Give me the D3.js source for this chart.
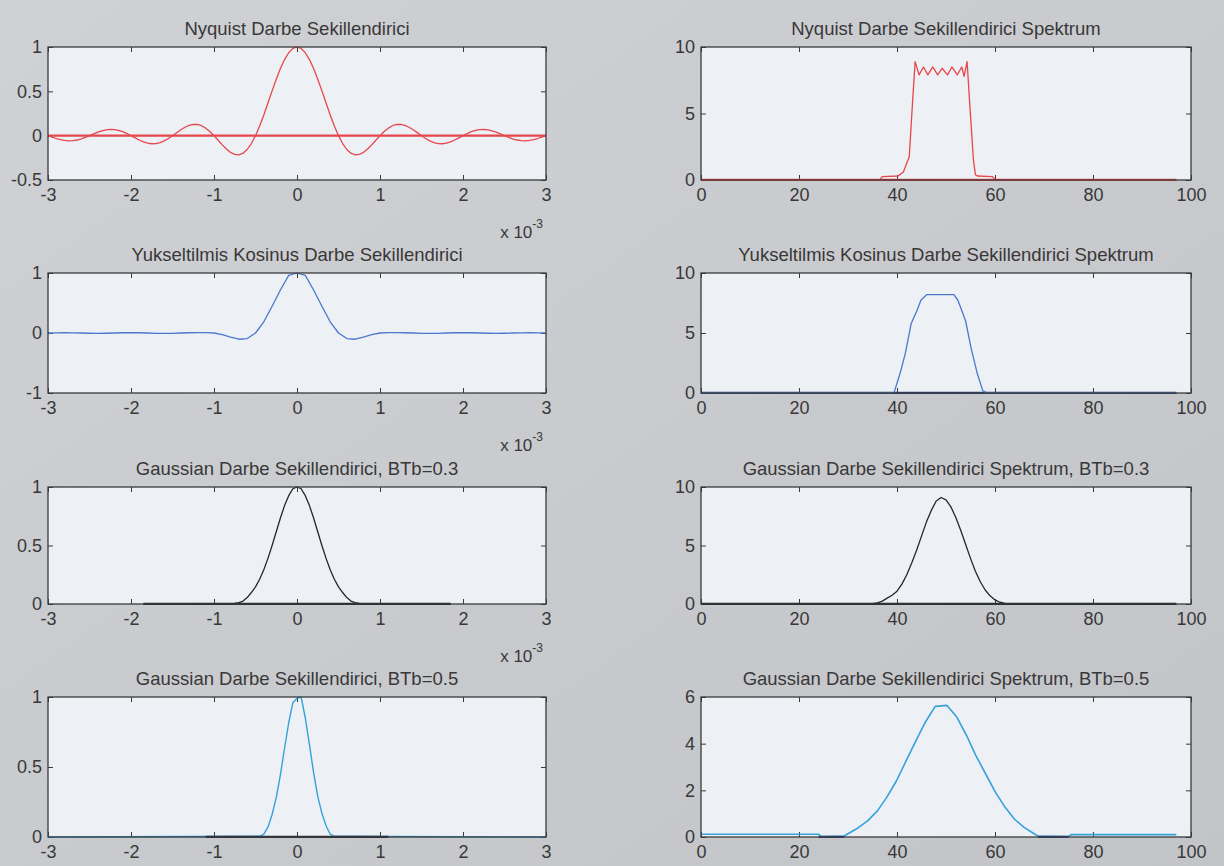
<!DOCTYPE html>
<html><head><meta charset="utf-8">
<script src="https://cdn.jsdelivr.net/npm/d3@7/dist/d3.min.js"></script>
<style>
body{margin:0;background:#c9cace;}
svg{display:block}
text{font-family:"Liberation Sans",Arial,Helvetica,sans-serif;fill:#383838;}
</style>
</head><body><svg id="c" width="1224" height="866"></svg>
<script>
// ---------------- DATA ----------------
const titles = [
  "Nyquist Darbe Sekillendirici",
  "Nyquist Darbe Sekillendirici Spektrum",
  "Yukseltilmis Kosinus Darbe Sekillendirici",
  "Yukseltilmis Kosinus Darbe Sekillendirici Spektrum",
  "Gaussian Darbe Sekillendirici, BTb=0.3",
  "Gaussian Darbe Sekillendirici Spektrum, BTb=0.3",
  "Gaussian Darbe Sekillendirici, BTb=0.5",
  "Gaussian Darbe Sekillendirici Spektrum, BTb=0.5"
];
const pulseTicksX = [-3,-2,-1,0,1,2,3];
const specTicksX = [0,20,40,60,80,100];
const yTicksList = [[-0.5,0,0.5,1],[0,5,10],[-1,0,1],[0,5,10],[0,0.5,1],[0,5,10],[0,0.5,1],[0,2,4,6]];
const yDomains = [[-0.5,1],[0,10],[-1,1],[0,10],[0,1],[0,10],[0,1],[0,6]];

// time grids (ms)
const tFine = d3.range(-60,61).map(k=>k*0.05);
const tCoarse = d3.range(-30,31).map(k=>k*0.1);

// Nyquist pulse (-3..3 ms every 0.05 ms)
const nyqPulse = [
 0,-0.017,-0.032,-0.045,-0.054,-0.058,-0.056,-0.049,-0.036,-0.019,
 0,0.020,0.039,0.055,0.066,0.071,0.069,0.060,0.045,0.024,
 0,-0.025,-0.049,-0.070,-0.084,-0.091,-0.089,-0.078,-0.058,-0.032,
 0,0.034,0.067,0.095,0.116,0.127,0.126,0.112,0.085,0.047,
 0,-0.052,-0.104,-0.151,-0.189,-0.212,-0.216,-0.198,-0.156,-0.089,
 0,0.109,0.234,0.368,0.505,0.637,0.757,0.858,0.935,0.984,
 1,
 0.984,0.935,0.858,0.757,0.637,0.505,0.368,0.234,0.109,0,
 -0.089,-0.156,-0.198,-0.216,-0.212,-0.189,-0.151,-0.104,-0.052,0,
 0.047,0.085,0.112,0.126,0.127,0.116,0.095,0.067,0.034,0,
 -0.032,-0.058,-0.078,-0.089,-0.091,-0.084,-0.070,-0.049,-0.025,0,
 0.024,0.045,0.060,0.069,0.071,0.066,0.055,0.039,0.020,0,
 -0.019,-0.036,-0.049,-0.056,-0.058,-0.054,-0.045,-0.032,-0.017,0
];
// Nyquist spectrum
const nyqSpecX = [0,36.5,37,40.2,41.3,42.5,43.2,43.7,44.5,45.4,46.3,47.3,48.3,49.2,50.3,51.2,52.3,53.2,53.7,54.3,54.8,55.6,56.0,56.4,59.5,60,97];
const nyqSpecY = [0.03,0.03,0.25,0.3,0.6,1.75,6.0,8.9,7.9,8.5,7.9,8.5,7.9,8.4,7.9,8.5,7.9,8.5,7.8,8.9,6.0,1.5,0.4,0.3,0.25,0.03,0.03];

// Raised cosine pulse (-3..3 ms every 0.1 ms)
const rcPulse = [
 0,0.003,0.005,0.003,0,-0.004,-0.006,-0.004,0,0.004,
 0.006,0.004,0,-0.005,-0.007,-0.005,0,0.004,0.007,0.006,
 0,-0.028,-0.070,-0.104,-0.093,0,0.187,0.446,0.717,0.96,
 1,
 0.96,0.717,0.446,0.187,0,-0.093,-0.104,-0.070,-0.028,0,
 0.006,0.007,0.004,0,-0.005,-0.007,-0.005,0,0.004,0.006,
 0.004,0,-0.004,-0.006,-0.004,0,0.003,0.005,0.003,0
];
// Raised cosine spectrum
const rcSpecX = [0,39.4,40.6,41.7,42.9,44.1,44.9,46.1,51.6,52.4,53.2,54.0,55.2,56.4,57.5,58.2,97];
const rcSpecY = [0.03,0.03,1.6,3.3,5.8,6.9,7.75,8.2,8.2,7.75,6.9,6.0,3.6,1.6,0.2,0.03,0.03];

// Gaussian BTb=0.3 pulse
const g3T = [-1.85,-0.75,-0.70,-0.65,-0.60,-0.55,-0.50,-0.45,-0.40,-0.35,-0.30,-0.25,-0.20,-0.15,-0.10,-0.05,0,0.05,0.10,0.15,0.20,0.25,0.30,0.35,0.40,0.45,0.50,0.55,0.60,0.65,0.70,0.75,1.85];
const g3V = [0,0.005,0.012,0.025,0.055,0.098,0.146,0.211,0.292,0.390,0.500,0.618,0.735,0.841,0.926,0.985,1,0.985,0.926,0.841,0.735,0.618,0.500,0.390,0.292,0.211,0.146,0.098,0.055,0.025,0.012,0.005,0];
const g3Base = [-1.85,1.85];
// Gaussian BTb=0.3 spectrum
const g3SpecX = [0,35,36,37,38,39,40,41,42,43,44,45,46,47,48,49,50,51,52,53,54,55,56,57,58,59,60,61,62,63,97];
const g3SpecY = [0.03,0.03,0.1,0.25,0.5,0.75,1.1,1.7,2.5,3.5,4.6,5.8,7.0,8.0,8.8,9.1,8.9,8.3,7.4,6.3,5.1,3.9,2.8,1.9,1.2,0.7,0.35,0.15,0.05,0.03,0.03];

// Gaussian BTb=0.5 pulse
const g5T = [-3,-0.45,-0.40,-0.35,-0.30,-0.25,-0.20,-0.15,-0.10,-0.05,0,0.05,0.10,0.15,0.20,0.25,0.30,0.35,0.40,0.45,3];
const g5V = [0,0.005,0.02,0.07,0.161,0.281,0.444,0.634,0.816,0.96,0.99,1,0.85,0.66,0.46,0.29,0.17,0.08,0.02,0.005,0];
const g5Base = [-1.1,1.1];
// Gaussian BTb=0.5 spectrum
const g5SpecX = [0,24,24.5,29.2,31.6,34.0,36.0,37.9,39.9,41.9,43.9,45.8,47.8,50.2,52.2,54.2,56.1,58.1,60.1,62.1,64.0,66.0,68.0,68.8,75,75.5,97];
const g5SpecY = [0.12,0.12,0.02,0.04,0.33,0.69,1.12,1.70,2.41,3.28,4.14,4.93,5.60,5.64,5.14,4.35,3.49,2.70,1.91,1.26,0.76,0.40,0.14,0.04,0.02,0.1,0.1];
const g5SpecBase = [[24,29.2],[68.8,75]];

// ---------------- LAYOUT / STYLE ----------------
const cols = [[48,546],[701,1191]];
const rows = [[47,180],[273,393],[487,604],[697,837]];
const RED = "#e6474c", BLUE = "#4a79cc", NAVY = "#2b467f", BLACK = "#262626", CYAN = "#35a2dc", DARK = "#2a2f3a";

const zip = (xs, ys) => xs.map((x,i)=>[x,ys[i]]);

const panels = [
  {lines:[{pts:[[-3,0],[3,0]],c:RED,w:2.2},{pts:zip(tFine,nyqPulse),c:RED,w:1.3}], sci:true},
  {lines:[{pts:[[0,0],[97,0]],c:RED,w:2.6},{pts:zip(nyqSpecX,nyqSpecY),c:RED,w:1.3}]},
  {lines:[{pts:zip(tCoarse,rcPulse),c:BLUE,w:1.3}], sci:true},
  {lines:[{pts:[[0,0],[97,0]],c:NAVY,w:2.6},{pts:zip(rcSpecX,rcSpecY),c:BLUE,w:1.3}]},
  {lines:[{pts:[[g3Base[0],0],[g3Base[1],0]],c:BLACK,w:2.6},{pts:zip(g3T,g3V),c:BLACK,w:1.3}], sci:true},
  {lines:[{pts:[[0,0],[97,0]],c:BLACK,w:2.6},{pts:zip(g3SpecX,g3SpecY),c:BLACK,w:1.3}]},
  {lines:[{pts:zip(g5T,g5V),c:CYAN,w:1.4},{pts:[[g5Base[0],0],[g5Base[1],0]],c:DARK,w:2.4}]},
  {lines:[{pts:zip(g5SpecX,g5SpecY),c:CYAN,w:1.6},{pts:[[g5SpecBase[0][0],0],[g5SpecBase[0][1],0]],c:NAVY,w:2.4},{pts:[[g5SpecBase[1][0],0],[g5SpecBase[1][1],0]],c:NAVY,w:2.4}]}
];

const svg = d3.select("#c");
const defs = svg.append("defs");
const grad = defs.append("linearGradient").attr("id","bg").attr("x1",0).attr("y1",0).attr("x2",1).attr("y2",1);
grad.append("stop").attr("offset","0%").attr("stop-color","#d0d1d4");
grad.append("stop").attr("offset","100%").attr("stop-color","#c3c4c8");
svg.append("rect").attr("width",1224).attr("height",866).attr("fill","url(#bg)");

panels.forEach((p,i)=>{
  const col = cols[i%2], row = rows[Math.floor(i/2)];
  const isPulse = i%2===0;
  const x = d3.scaleLinear().domain(isPulse?[-3,3]:[0,100]).range(col);
  const y = d3.scaleLinear().domain(yDomains[i]).range([row[1],row[0]]);
  const g = svg.append("g");
  const cid = "clip"+i;
  defs.append("clipPath").attr("id",cid).append("rect")
    .attr("x",col[0]).attr("y",row[0]-1).attr("width",col[1]-col[0]).attr("height",row[1]-row[0]+2);
  g.append("rect").attr("x",col[0]).attr("y",row[0]).attr("width",col[1]-col[0]).attr("height",row[1]-row[0])
    .attr("fill","#edf0f4");
  const xt = isPulse?pulseTicksX:specTicksX;
  const yt = yTicksList[i];
  const fmt = d => String(d);
  const ax = (gen, tr) => {
    const a = g.append("g").attr("transform",tr).call(gen);
    a.select(".domain").remove();
    a.selectAll("line").attr("stroke","#3a3a3a").attr("stroke-width",1);
    a.selectAll("text").attr("font-size","18px").attr("fill","#383838")
      .style("font-family",'"Liberation Sans",Arial,sans-serif');
    return a;
  };
  ax(d3.axisBottom(x).tickValues(xt).tickSizeInner(-5).tickSizeOuter(0).tickPadding(8).tickFormat(fmt), `translate(0,${row[1]})`);
  ax(d3.axisTop(x).tickValues(xt).tickSizeInner(-5).tickSizeOuter(0).tickFormat(""), `translate(0,${row[0]})`);
  ax(d3.axisLeft(y).tickValues(yt).tickSizeInner(-5).tickSizeOuter(0).tickPadding(6).tickFormat(fmt), `translate(${col[0]},0)`);
  ax(d3.axisRight(y).tickValues(yt).tickSizeInner(-5).tickSizeOuter(0).tickFormat(""), `translate(${col[1]},0)`);

  const lg = g.append("g").attr("clip-path",`url(#${cid})`);
  const line = d3.line().x(d=>x(d[0])).y(d=>y(d[1]));
  p.lines.forEach(l=>{
    lg.append("path").attr("d",line(l.pts)).attr("fill","none")
      .attr("stroke",l.c).attr("stroke-width",l.w).attr("stroke-linejoin","round");
  });
  g.append("rect").attr("x",col[0]).attr("y",row[0]).attr("width",col[1]-col[0]).attr("height",row[1]-row[0])
    .attr("fill","none").attr("stroke","#3a3a3a").attr("stroke-width",1.3);
  g.append("text").attr("x",(col[0]+col[1])/2).attr("y",row[0]-12).attr("text-anchor","middle")
    .attr("font-size","18.5px").text(titles[i]);
  if(p.sci){
    const t = g.append("text").attr("x",col[1]-3).attr("y",row[1]+58).attr("text-anchor","end").attr("font-size","17px");
    t.append("tspan").text("x 10");
    t.append("tspan").attr("dy",-10).attr("font-size","12px").text("-3");
  }
});
</script></body></html>
